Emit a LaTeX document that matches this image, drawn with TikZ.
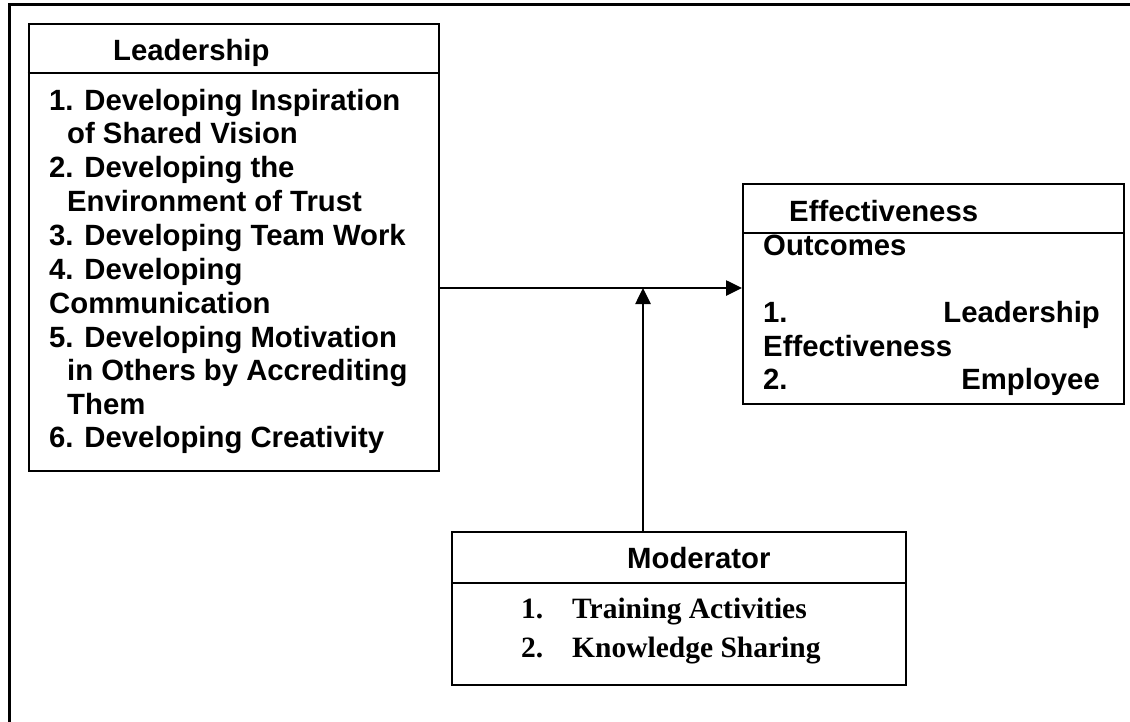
\documentclass[tikz,border=0pt]{standalone}
\usepackage{fontspec}
\setmainfont{Liberation Sans}
\newfontfamily\serifbold{Liberation Serif}
\usetikzlibrary{arrows.meta}
\begin{document}
\begin{tikzpicture}[x=1pt,y=-1pt,
  frame/.style={line width=2pt},
  txt/.style={inner sep=0pt,anchor=base west,font=\fontsize{29.3}{33.7}\selectfont\bfseries},
  txtr/.style={txt,anchor=base east},
  srf/.style={inner sep=0pt,anchor=base west,font=\fontsize{29.5}{34}\selectfont\serifbold\bfseries},
  link/.style={line width=2.6pt,-{Triangle[length=16pt,width=15pt]}}]
\useasboundingbox (0,0) rectangle (1130,721);
% page frame (only the top and left sides fall inside)
\draw[line width=3pt] (9,730) -- (9,4.5) -- (1140,4.5);

% Leadership block
\node[draw,frame,minimum width=410pt,minimum height=447pt,anchor=north west,inner sep=0pt] (lead) at (27.5,22.5) {};
\draw[frame] (27.5,73) -- (437.5,73);
\node[txt] (leadh) at (113,60) {Leadership};
\node[txt] (l1) at (49,110) {1. Developing Inspiration};
\node[txt] (l2) at (67,143.5) {of Shared Vision};
\node[txt] (l3) at (49,177) {2. Developing the};
\node[txt] (l4) at (67,211) {Environment of Trust};
\node[txt] (l5) at (49,245) {3. Developing Team Work};
\node[txt] (l6) at (49,279) {4. Developing};
\node[txt] (l7) at (49,313) {Communication};
\node[txt] (l8) at (49,347) {5. Developing Motivation};
\node[txt] (l9) at (67,380.5) {in Others by Accrediting};
\node[txt] (l10) at (67,414) {Them};
\node[txt] (l11) at (49,447.5) {6. Developing Creativity};

% Effectiveness block
\node[draw,frame,minimum width=381pt,minimum height=220pt,anchor=north west,inner sep=0pt] (eff) at (742,183) {};
\draw[frame] (742,233) -- (1123,233);
\node[txt] (effh) at (789,221) {Effectiveness};
\node[txt] (e1) at (763,255) {Outcomes};
\node[txt] (e2) at (763,322.5) {1.};
\node[txtr] (e3) at (1100,322.5) {Leadership};
\node[txt] (e4) at (763,356) {Effectiveness};
\node[txt] (e5) at (763,389.5) {2.};
\node[txtr] (e6) at (1100,389.5) {Employee};

% Moderator block
\node[draw,frame,minimum width=454pt,minimum height=153pt,anchor=north west,inner sep=0pt] (mod) at (451,531) {};
\draw[frame] (451,583) -- (905,583);
\node[txt] (modh) at (627,568) {Moderator};
\node[srf] (m1n) at (521,618) {1.};
\node[srf] (m1) at (572,618) {Training Activities};
\node[srf] (m2n) at (521,657) {2.};
\node[srf] (m2) at (572,657) {Knowledge Sharing};

% connectors
\coordinate (join) at (643,288);
\draw[link] (lead.east |- join) -- (eff.west |- join);
\draw[link] (mod.north -| join) -- (join);
\end{tikzpicture}
\end{document}
